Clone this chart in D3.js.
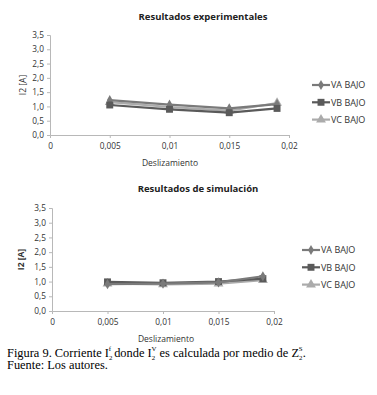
<!DOCTYPE html>
<html>
<head>
<meta charset="utf-8">
<script src="https://cdn.jsdelivr.net/npm/d3@7"></script>
<style>
  body { margin: 0; background: #fff; }
  svg { display: block; }
</style>
</head>
<body>
<div id="fig"></div>
<script>
// --- data ---
const slip = [0.005, 0.01, 0.015, 0.019];
const xTicks = [0, 0.005, 0.01, 0.015, 0.02];
const xTickLabels = ["0", "0,005", "0,01", "0,015", "0,02"];
const yTicks = [0, 0.5, 1, 1.5, 2, 2.5, 3, 3.5];

const expVA = [1.22, 1.06, 0.93, 1.08];
const expVB = [1.05, 0.90, 0.78, 0.93];
const expVC = [1.15, 0.98, 0.85, 1.12];

const simVA = [0.91, 0.93, 0.97, 1.18];
const simVB = [0.99, 0.96, 1.00, 1.10];
const simVC = [0.93, 0.90, 0.93, 1.05];

const seriesNames = ["VA BAJO", "VB BAJO", "VC BAJO"];
const seriesColor = d3.scaleOrdinal().domain(seriesNames).range(["#7a7a7a", "#5a5a5a", "#ababab"]);
const seriesSymbol = d3.scaleOrdinal().domain(seriesNames)
  .range([d3.symbolDiamond, d3.symbolSquare, d3.symbolTriangle]);
const symbolSize = { "VA BAJO": 30, "VB BAJO": 48, "VC BAJO": 42 };

const svg = d3.select("#fig").append("svg")
  .attr("width", 377)
  .attr("height", 395);

const fmt = d => d3.format(".1f")(d).replace(".", ",");

function drawChart(cfg) {
  const g = svg.append("g");
  const x = d3.scaleLinear().domain([0, 0.02]).range([cfg.left, cfg.right]);
  const y = d3.scaleLinear().domain([0, 3.5]).range([cfg.bottom, cfg.top]);

  // title
  g.append("text")
    .attr("x", cfg.titleX)
    .attr("y", cfg.titleY)
    .attr("text-anchor", "middle")
    .attr("font-family", "Open Sans, sans-serif")
    .attr("font-size", "9.5px")
    .attr("font-weight", "bold")
    .attr("fill", "#222")
    .text(cfg.title);

  // y axis
  const yAxis = g.append("g")
    .attr("transform", `translate(${cfg.left},0)`)
    .call(d3.axisLeft(y).tickValues(yTicks).tickFormat(fmt).tickSize(3).tickPadding(3));
  // x axis
  const xAxis = g.append("g")
    .attr("transform", `translate(0,${cfg.bottom})`)
    .call(d3.axisBottom(x).tickValues(xTicks).tickFormat((d, i) => xTickLabels[i]).tickSize(3).tickPadding(5));

  [yAxis, xAxis].forEach(ax => {
    ax.select(".domain").attr("stroke", "#b8b8b8");
    ax.selectAll(".tick line").attr("stroke", "#b8b8b8");
    ax.selectAll("text")
      .attr("font-family", "Open Sans, sans-serif")
      .attr("font-size", "8.3px")
      .attr("fill", "#333");
  });
  xAxis.selectAll(".tick").filter(d => d === 0).select("line").remove();

  // axis labels
  g.append("text")
    .attr("transform", `translate(${cfg.yLabelX},${(cfg.top + cfg.bottom) / 2}) rotate(-90)`)
    .attr("text-anchor", "middle")
    .attr("font-family", "Open Sans, sans-serif")
    .attr("font-size", "8.5px")
    .attr("font-weight", cfg.yLabelBold ? "bold" : "normal")
    .attr("fill", "#333")
    .text("I2 [A]");

  g.append("text")
    .attr("x", cfg.xLabelX)
    .attr("y", cfg.xLabelY)
    .attr("text-anchor", "middle")
    .attr("font-family", "Open Sans, sans-serif")
    .attr("font-size", "8.5px")
    .attr("fill", "#333")
    .text("Deslizamiento");

  // lines (light first so the darker ones sit on top like the original)
  const line = d3.line().x(d => x(d[0])).y(d => y(d[1]));
  cfg.series.forEach(s => {
    const pts = slip.map((v, i) => [v, s.values[i]]);
    g.append("path")
      .datum(pts)
      .attr("fill", "none")
      .attr("stroke", seriesColor(s.name))
      .attr("stroke-width", 2.2)
      .attr("d", line);
    g.selectAll(null)
      .data(pts)
      .join("path")
      .attr("transform", d => `translate(${x(d[0])},${y(d[1])})`)
      .attr("d", d3.symbol().type(seriesSymbol(s.name)).size(symbolSize[s.name]))
      .attr("fill", seriesColor(s.name));
  });

  // legend
  const leg = g.append("g").attr("transform", `translate(${cfg.legX},${cfg.legY})`);
  seriesNames.forEach((n, i) => {
    const row = leg.append("g").attr("transform", `translate(0,${i * 17.3})`);
    row.append("line")
      .attr("x1", 0).attr("x2", 18)
      .attr("stroke", seriesColor(n))
      .attr("stroke-width", 2.2);
    row.append("path")
      .attr("transform", "translate(9,0)")
      .attr("d", d3.symbol().type(seriesSymbol(n)).size(symbolSize[n]))
      .attr("fill", seriesColor(n));
    row.append("text")
      .attr("x", 19)
      .attr("y", 3.2)
      .attr("font-family", "Open Sans, sans-serif")
      .attr("font-size", "9px")
      .attr("fill", "#333")
      .text(n);
  });
}

drawChart({
  title: "Resultados experimentales",
  titleX: 203, titleY: 20,
  left: 50, right: 289, top: 35, bottom: 135,
  yLabelX: 26, xLabelX: 170, xLabelY: 166, yLabelBold: false,
  legX: 312, legY: 85,
  series: [
    { name: "VC BAJO", values: expVC },
    { name: "VA BAJO", values: expVA },
    { name: "VB BAJO", values: expVB }
  ]
});

drawChart({
  title: "Resultados de simulación",
  titleX: 198, titleY: 192,
  left: 52, right: 274, top: 208, bottom: 311,
  yLabelX: 24, xLabelX: 166, xLabelY: 342, yLabelBold: true,
  legX: 302, legY: 250,
  series: [
    { name: "VC BAJO", values: simVC },
    { name: "VB BAJO", values: simVB },
    { name: "VA BAJO", values: simVA }
  ]
});

// caption, with I₂ᶠ style sub/superscripts stacked
const capFont = { family: "Liberation Serif, serif", size: "12.4px", small: "6.8px" };
const cap = svg.append("text")
  .attr("x", 7)
  .attr("y", 357)
  .attr("font-family", capFont.family)
  .attr("font-size", capFont.size)
  .attr("fill", "#000");

function stacked(sel, base, sup, sub, after) {
  sel.append("tspan").text(base);
  sel.append("tspan").attr("dy", 3).attr("font-size", capFont.small).text(sub);
  sel.append("tspan").attr("dx", -3.5).attr("dy", -9).attr("font-size", capFont.small).text(sup);
  sel.append("tspan").attr("dy", 6).text(after);
}
cap.append("tspan").text("Figura 9. Corriente ");
stacked(cap, "I", "f", "2", " donde ");
stacked(cap, "I", "V", "2", " es calculada por medio de ");
stacked(cap, "Z", "S", "2", ".");

svg.append("text")
  .attr("x", 7)
  .attr("y", 369)
  .attr("font-family", capFont.family)
  .attr("font-size", capFont.size)
  .attr("fill", "#000")
  .text("Fuente: Los autores.");
</script>
</body>
</html>
